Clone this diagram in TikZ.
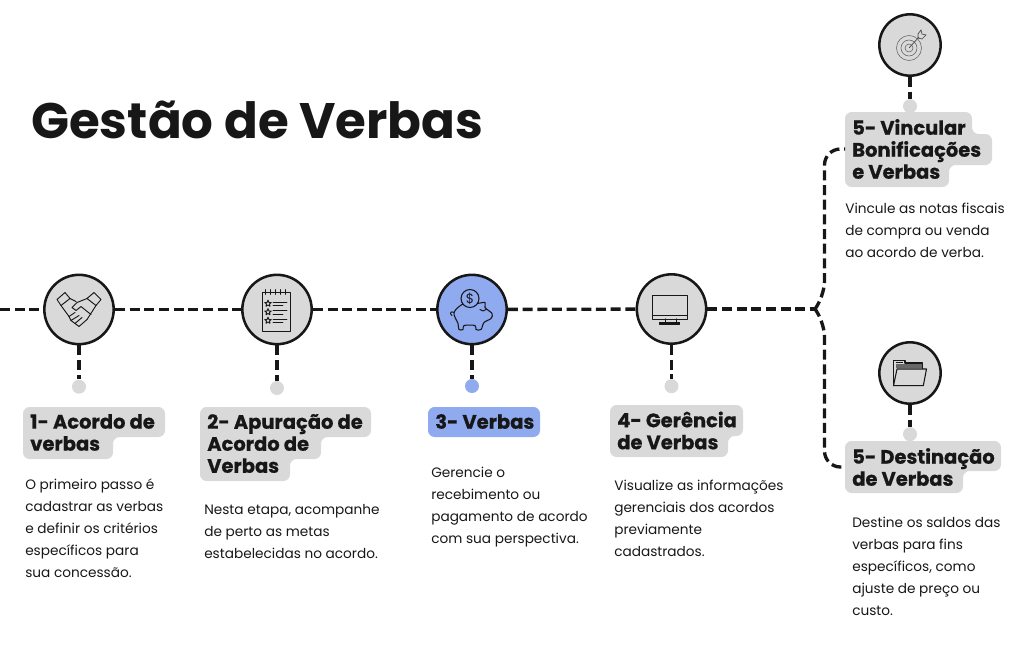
\documentclass[tikz,border=0pt]{standalone}
\usepackage{fontspec}
\setmainfont{Poppins}
\newfontfamily\heavyfont[BoldFeatures={FakeBold=0.6}]{Poppins}
\usepackage{tikz}
\usetikzlibrary{positioning}
\definecolor{inkdark}{HTML}{171717}
\definecolor{softgray}{HTML}{D9D9D9}
\definecolor{softblue}{HTML}{90AAF0}
\tikzset{
    stagecircle/.style={circle, draw=inkdark, line width=1.9pt, fill=softgray, minimum size=52pt, inner sep=0pt},
    stagesmall/.style={stagecircle, minimum size=46pt},
    stagedot/.style={circle, fill=softgray, minimum size=10.5pt, inner sep=0pt},
    dashline/.style={draw=inkdark, line width=2.5pt, dash pattern=on 7.5pt off 3.5pt},
    tagshape/.style={fill=softgray, rounded corners=5pt},
    tagtext/.style={anchor=west, align=left, inner xsep=5.25pt, inner ysep=0pt, text=inkdark, font=\heavyfont\fontsize{14.6}{16.5}\selectfont\bfseries},
    bodytext/.style={anchor=north west, align=left, inner sep=0pt, text=inkdark, font=\fontsize{10.25}{16.5}\selectfont},
    iconline/.style={draw=inkdark, line width=0.7pt, line join=round, line cap=round},
    handshake/.pic={
        % Cuffs
        \draw[iconline] (-22,-10) -- (-14,-17) -- (-9,-11) -- (-18,-4) -- cycle;
        \draw[iconline] (8,-11) -- (15,-17) -- (22,-10) -- (17,-4) -- cycle;
        % Arms
        \draw[iconline] (-18,-4) -- (-10,7);
        \draw[iconline] (17,-4) -- (8,10);
        \draw[iconline] (-9,-11) -- (-3,-8);
        % Thumb
        \draw[iconline] (8,-11) -- (-2,-7) -- (-7,-2) -- (-3,1) -- (2,-3) -- (12,5);
        % Fingers
        \draw[iconline] (-10,7) -- (-4,3);
        \draw[iconline] (-10,7) -- (-8,11) -- (0,6);
        \draw[iconline] (-8,11) -- (-4,14) -- (3,8);
        \draw[iconline] (-4,14) -- (0,17) -- (8,10);
    },
    notepad/.pic={
        % Sheet
        \draw[iconline] (-15,-17) rectangle (13,22);
        % Rings
        \foreach \rx in {-12,-7,-2,3,8} {
            \draw[iconline] (\rx,-20) -- (\rx,-15);
        }
        % Stars and lines
        \foreach \sy in {-6,2.5,11} {
            \begin{scope}[shift={(-9,\sy)}]
                \draw[iconline] (0,-3.3) -- (1,-1) -- (3.2,-1) -- (1.5,.5) -- (2,2.8) -- (0,1.5) -- (-2,2.8) -- (-1.5,.5) -- (-3.2,-1) -- (-1,-1) -- cycle;
                \draw[iconline] (5,-1.5) -- (19,-1.5);
                \draw[iconline] (5,2) -- (15,2);
            \end{scope}
        }
    },
    piggybank/.pic={
        % Body
        \draw[iconline, line width=0.8pt] plot[smooth cycle, tension=0.55] coordinates {(-18,3) (-8,-6) (5,-6) (13,-7) (13,-2) (20,4) (19,9) (12,13) (9,20) (4,20) (3,16) (-8,16) (-9,20) (-13,20) (-14,14)};
        % Tail and eye
        \draw[iconline] (-18,3) .. controls (-21,1) and (-23,4) .. (-20,6);
        \draw[iconline] (8,0) .. controls (10,2) and (12,2) .. (14,0);
        % Coin
        \draw[iconline, line width=0.8pt, fill=softblue] (-2,-11) circle (9);
        \node[text=inkdark, inner sep=0pt, font=\fontsize{10}{10}\selectfont] (coinsign) at (-2,-11) {\$};
    },
    screenicon/.pic={
        % Screen
        \draw[iconline, line width=0.6pt] (-19,-14) rectangle (16,10);
        \draw[iconline, line width=0.6pt] (-19,6) -- (16,6);
        % Stand
        \draw[iconline, line width=0.8pt] (-6,10) -- (-6,13) (5,10) -- (5,13);
        \draw[iconline, fill=inkdark] (-12,13) rectangle (8,15);
    },
    targeticon/.pic={
        % Rings
        \foreach \rr in {4,8,12.5} {
            \draw[draw=inkdark!70, line width=0.4pt] (-1,3) circle (\rr);
        }
        % Arrow
        \draw[draw=inkdark!80, line width=0.5pt] (-1,3) -- (9,-8);
        \draw[draw=inkdark!80, line width=0.5pt] (8,-11) -- (11,-15) -- (12,-11) -- (16,-10) -- (12,-6) -- (8,-7) -- cycle;
    },
    foldericon/.pic={
        % Back
        \draw[iconline, line width=0.8pt] (-16.5,12.7) -- (-16.5,-12.7) -- (-5,-12.7) -- (-5,-10) -- (12.5,-10) -- (12.5,-4);
        \draw[draw=inkdark, line width=1pt] (-14.3,-10.6) -- (-7.3,-10.6);
        \fill[inkdark!65] (-14,-9) rectangle (11.5,-5);
        % Front
        \draw[iconline, line width=0.8pt, fill=softgray] (-16.5,12.7) -- (-13,-4) -- (16.5,-4) -- (13.3,12.7) -- cycle;
    },
}
\begin{document}
\begin{tikzpicture}[x=0.75pt, y=-0.75pt]
    \useasboundingbox (0,0) rectangle (1024,650);

    % Title
    \node[anchor=west, inner sep=0pt, text=inkdark, font=\fontsize{37.4}{40}\selectfont\bfseries] (title) at (31,120) {Gestão de Verbas};

    % Stages
    \node[stagecircle] (stageA) at (79,309.5) {};
    \node[stagecircle] (stageB) at (277,309.5) {};
    \node[stagecircle, fill=softblue] (stageC) at (472,309.5) {};
    \node[stagecircle] (stageD) at (671.5,309) {};
    \node[stagesmall] (stageE) at (910,45) {};
    \node[stagesmall] (stageF) at (910,373) {};

    % Dots
    \node[stagedot, below=25.5pt of stageA] (dotA) {};
    \node[stagedot, below=26.5pt of stageB] (dotB) {};
    \node[stagedot, fill=softblue, below=25pt of stageC] (dotC) {};
    \node[stagedot, below=25.5pt of stageD] (dotD) {};
    \node[stagedot, below=16.5pt of stageE] (dotE) {};
    \node[stagedot, below=16.5pt of stageF] (dotF) {};

    % Icons
    \pic at (stageA) {handshake};
    \pic at (stageB) {notepad};
    \pic at (stageC) {piggybank};
    \pic at (stageD) {screenicon};
    \pic at (stageE) {targeticon};
    \pic at (stageF) {foldericon};

    % Tag shapes
    \fill[tagshape] (23,407) -- (165,407) -- (165,437) -- (113,437) -- (113,459) -- (23,459) -- cycle;
    \fill[tagshape] (200,407) -- (371,407) -- (371,437) -- (321,437) -- (321,459) -- (290,459) -- (290,481) -- (200,481) -- cycle;
    \fill[tagshape, fill=softblue] (428,407) -- (540,407) -- (540,437) -- (428,437) -- cycle;
    \fill[tagshape] (610,405) -- (743,405) -- (743,436) -- (728,436) -- (728,457) -- (610,457) -- cycle;
    \fill[tagshape] (845,112) -- (972,112) -- (972,134) -- (992,134) -- (992,165) -- (949,165) -- (949,187) -- (845,187) -- cycle;
    \fill[tagshape] (845,441) -- (1001,441) -- (1001,471) -- (963,471) -- (963,493) -- (845,493) -- cycle;

    % Tag texts
    \node[tagtext] (tagA) at (23,432.5) {1- Acordo de\\verbas};
    \node[tagtext] (tagB) at (200,443.5) {2- Apuração de\\Acordo de\\Verbas};
    \node[tagtext] (tagC) at (428,421.5) {3- Verbas};
    \node[tagtext] (tagD) at (610,430.5) {4- Gerência\\de Verbas};
    \node[tagtext] (tagE) at (845,149) {5- Vincular\\Bonificações\\e Verbas};
    \node[tagtext] (tagF) at (845,467) {5- Destinação\\de Verbas};

    % Descriptions
    \node[bodytext] (bodyA) at (25,478.5) {O primeiro passo é\\cadastrar as verbas\\e definir os critérios\\específicos para\\sua concessão.};
    \node[bodytext] (bodyB) at (204,504) {Nesta etapa, acompanhe\\de perto as metas\\estabelecidas no acordo.};
    \node[bodytext] (bodyC) at (431,467) {Gerencie o\\recebimento ou\\pagamento de acordo\\com sua perspectiva.};
    \node[bodytext] (bodyD) at (614,480) {Visualize as informações\\gerenciais dos acordos\\previamente\\cadastrados.};
    \node[bodytext] (bodyE) at (845,203) {Vincule as notas fiscais\\de compra ou venda\\ao acordo de verba.};
    \node[bodytext] (bodyF) at (852,517) {Destine os saldos das\\verbas para fins\\específicos, como\\ajuste de preço ou\\custo.};

    % Connectors
    \coordinate (linestart) at (0,309.5);
    \coordinate (fork) at (815,309);
    \draw[dashline] (linestart) -- (stageA);
    \draw[dashline] (stageA) -- (stageB);
    \draw[dashline] (stageB) -- (stageC);
    \draw[dashline] (stageC) -- (stageD);
    \draw[dashline] (stageD) -- (fork);
    \draw[dashline] (stageA) -- (dotA);
    \draw[dashline] (stageB) -- (dotB);
    \draw[dashline] (stageC) -- (dotC);
    \draw[dashline] (stageD) -- (dotD);
    \draw[dashline] (stageE) -- (dotE);
    \draw[dashline] (stageF) -- (dotF);
    \draw[dashline, rounded corners=12pt] (fork) -- ++(9.5,-12) |- (tagE.west);
    \draw[dashline, rounded corners=12pt] (fork) -- ++(9.5,12) |- (tagF.west);
\end{tikzpicture}
\end{document}
